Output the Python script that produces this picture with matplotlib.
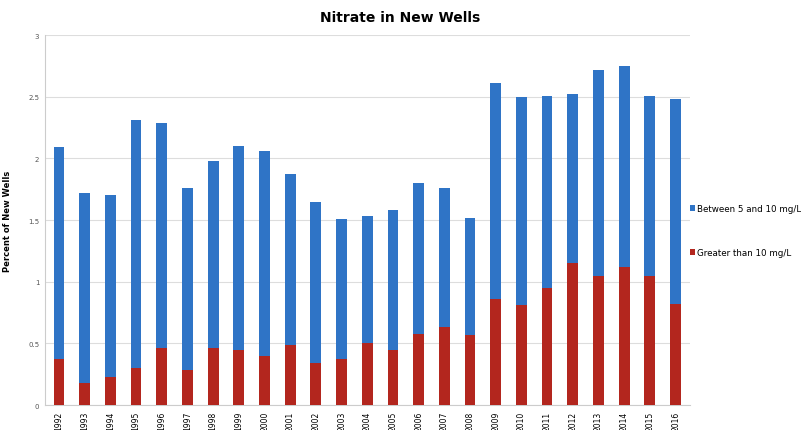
import matplotlib
matplotlib.use("Agg")
import matplotlib.pyplot as plt
import numpy as np

plt.rcParams.update({"font.family": "DejaVu Sans"})
BLUE = "#2F74C6"; RED = "#B3261E"

years = [str(y) for y in range(1992, 2017)]
# percent of new wells, greater than 10 mg/L
over10 = [0.37, 0.18, 0.23, 0.30, 0.46, 0.28, 0.46, 0.45, 0.40, 0.49, 0.34, 0.37, 0.50,
          0.45, 0.58, 0.63, 0.57, 0.86, 0.81, 0.95, 1.15, 1.05, 1.12, 1.05, 0.82]
# percent of new wells, between 5 and 10 mg/L
between = [1.72, 1.54, 1.47, 2.01, 1.83, 1.48, 1.52, 1.65, 1.66, 1.38, 1.31, 1.14, 1.03,
           1.13, 1.22, 1.13, 0.95, 1.75, 1.69, 1.56, 1.37, 1.67, 1.63, 1.46, 1.66]

fig = plt.figure(figsize=(8.01, 4.31), dpi=100)
ax = fig.add_axes([0.056, 0.058, 0.805, 0.858])
x = np.arange(len(years))
b1 = ax.bar(x, over10, width=0.42, color=RED, zorder=3)
b2 = ax.bar(x, between, width=0.42, bottom=over10, color=BLUE, zorder=3)

ax.set_ylim(0, 3)
ax.set_xlim(-0.55, len(years) - 0.45)
ax.set_yticks(np.arange(0, 3.01, 0.5))
ax.set_yticklabels(["0", "0.5", "1", "1.5", "2", "2.5", "3"], fontsize=5, color="#555555")
ax.set_xticks(x)
ax.set_xticklabels(years, rotation=90, fontsize=5.5)
ax.tick_params(length=0, pad=4)
ax.grid(axis="y", color="#dddddd", lw=0.8, zorder=0)
for s in ["top", "right"]:
    ax.spines[s].set_visible(False)
ax.spines["left"].set_color("#cccccc")
ax.spines["bottom"].set_color("#cccccc")
ax.set_ylabel("Percent of New Wells", fontsize=6, fontweight="bold", labelpad=12)

fig.suptitle("Nitrate in New Wells", x=0.5, y=0.975, fontsize=10, fontweight="bold")
fig.legend([b2, b1], ["Between 5 and 10 mg/L", "Greater than 10 mg/L"],
           loc="upper left", bbox_to_anchor=(0.851, 0.543), frameon=False, fontsize=6.3,
           handlelength=0.6, handleheight=0.6, handletextpad=0.3, labelspacing=4.0)

fig.savefig("out.png", dpi=100)
